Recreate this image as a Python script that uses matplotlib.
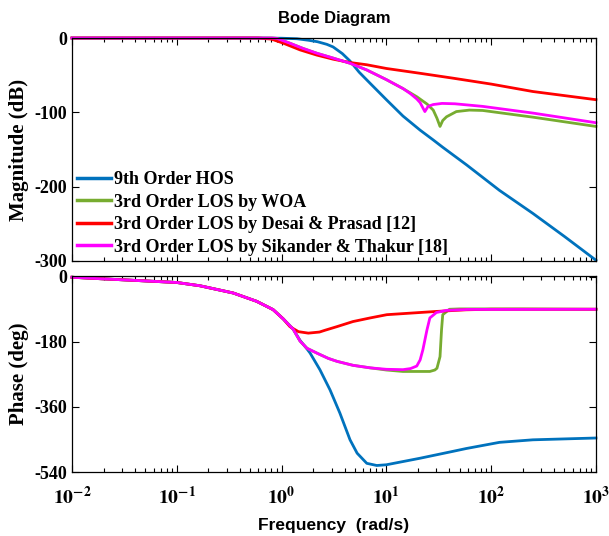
import numpy as np
import matplotlib
matplotlib.use('Agg')
import matplotlib.pyplot as plt
from matplotlib.ticker import LogLocator, NullFormatter

plt.rcParams['mathtext.fontset'] = 'stix'

# magnitude curves (rad/s, dB)
w_mag_hos = [0.01, 0.5, 1.0, 1.4, 1.8, 2.2, 2.7, 3.1, 3.8, 4.5, 5.5, 7.0, 10, 14.4, 21, 27.9, 34.5, 58.6, 120, 250, 500, 1000]
mag_hos = [0, 0, -0.3, -1, -3, -5, -8.5, -12, -21, -31, -46, -61, -83, -105, -124, -137, -147, -171, -205, -236, -267, -299]

w_mag_woa = [0.01, 0.8, 0.9, 1.2, 1.6, 2.17, 3.1, 4.5, 6.5, 10, 14.4, 19.5, 24.5, 28, 30.4, 32.5, 34.5, 37.5, 46.5, 62, 83, 250, 1000]
mag_woa = [0, 0, -0.5, -7, -14, -20.5, -27, -34, -43, -56, -68, -79, -89, -97, -108, -119, -111, -106, -99, -97, -97.5, -106.5, -119]

w_mag_desai = [0.01, 0.6, 0.8, 1.04, 1.5, 2.17, 3.1, 4.5, 6.5, 10, 21, 43, 100, 250, 1000]
mag_desai = [0, 0, -1.5, -7, -16, -23, -28.5, -33, -36, -41, -47.5, -54, -62, -72, -83]

w_mag_sik = [0.01, 0.8, 0.9, 1.2, 1.6, 2.17, 3.1, 4.5, 6.5, 10, 14.4, 17, 19.5, 21, 23.3, 25, 28, 34, 45, 83, 250, 1000]
mag_sik = [0, 0, -0.5, -7, -14, -20.5, -27, -34, -43, -56, -68, -75, -82, -87, -99, -92, -89.5, -88, -88.5, -92, -101, -114]

# phase curves (rad/s, deg)
w_ph_hos = [0.01, 0.0185, 0.0385, 0.1, 0.166, 0.345, 0.578, 0.83, 1.04, 1.29, 1.5, 1.75, 1.87, 2.32, 2.9, 3.6, 4.5,
            5.26, 6.5, 8.1, 10, 20.9, 43, 58, 120, 250, 1000]
ph_hos = [-1.5, -5.5, -10, -16, -25, -45, -68, -91, -117, -145, -176, -200, -211, -257, -313, -377, -451,
          -488, -516, -522, -520, -502, -483, -475, -458, -451, -446]

w_ph_woa = [0.01, 0.0185, 0.0385, 0.1, 0.166, 0.345, 0.578, 0.83, 1.04, 1.29, 1.5, 1.75, 2.2, 2.8, 3.38, 4.8, 7.0,
            10, 14.4, 26, 29, 30.4, 32.5, 33.6, 34.5, 40, 50, 200, 1000]
ph_woa = [-1.5, -5.5, -10, -16, -25, -45, -68, -91, -117, -145, -178, -198, -212, -226, -234, -245, -252,
          -258, -262, -262, -258, -253, -221, -147, -105, -90, -89, -89, -90]

w_ph_desai = [0.01, 0.0185, 0.0385, 0.1, 0.166, 0.345, 0.578, 0.83, 1.04, 1.2, 1.45, 1.8, 2.3, 2.6, 3.38, 4.8, 7.0,
              10.1, 20.9, 30, 58, 100, 1000]
ph_desai = [-1.5, -5.5, -10, -16, -25, -45, -68, -91, -117, -138, -152, -156, -153, -148, -138, -124, -114,
            -105, -99, -96, -91.5, -90, -90]

w_ph_sik = [0.01, 0.0185, 0.0385, 0.1, 0.166, 0.345, 0.578, 0.83, 1.04, 1.29, 1.5, 1.75, 2.2, 2.8, 3.38, 4.8, 7.0,
            10, 14.4, 17, 19.5, 21, 22.3, 24.4, 26, 30, 37.5, 60, 1000]
ph_sik = [-1.5, -5.5, -10, -16, -25, -45, -68, -91, -117, -145, -178, -198, -212, -226, -234, -245, -252,
          -256, -257, -254, -247, -230, -202, -147, -114, -99, -93, -90.5, -90]

labels = ['9th Order HOS', '3rd Order LOS by WOA', '3rd Order LOS by Desai & Prasad [12]',
          '3rd Order LOS by Sikander & Thakur [18]']
colors = ['#0072BD', '#77AC30', '#FF0000', '#FF00FF']

x_ticks = [1e-2, 1e-1, 1e0, 1e1, 1e2, 1e3]
x_ticklabels = [r'$\mathbf{10^{-2}}$', r'$\mathbf{10^{-1}}$', r'$\mathbf{10^{0}}$',
                r'$\mathbf{10^{1}}$', r'$\mathbf{10^{2}}$', r'$\mathbf{10^{3}}$']

mag_series = [(w_mag_hos, mag_hos), (w_mag_woa, mag_woa), (w_mag_desai, mag_desai), (w_mag_sik, mag_sik)]
ph_series = [(w_ph_hos, ph_hos), (w_ph_woa, ph_woa), (w_ph_desai, ph_desai), (w_ph_sik, ph_sik)]

fig = plt.figure(figsize=(6.09, 5.36), dpi=100)
ax_mag = fig.add_axes([0.1182, 0.5131, 0.8604, 0.416])
ax_ph = fig.add_axes([0.1182, 0.1194, 0.8604, 0.3657])

serif_bold = {'family': 'Liberation Serif', 'weight': 'bold'}

for (w, m), (wp, p), lab, c in zip(mag_series, ph_series, labels, colors):
  ax_mag.semilogx(w, m, color=c, lw=2.0, label=lab, clip_on=False)
  ax_ph.semilogx(wp, p, color=c, lw=2.0, clip_on=False)

for ax in (ax_mag, ax_ph):
  ax.set_xlim(1e-2, 1e3)
  ax.set_xticks(x_ticks)
  ax.xaxis.set_minor_locator(LogLocator(base=10, subs=np.arange(2, 10), numticks=10))
  ax.xaxis.set_minor_formatter(NullFormatter())
  ax.tick_params(which='both', direction='in', top=True, right=True, width=0.8)
  ax.tick_params(which='major', length=5, labelsize=13)
  ax.tick_params(which='minor', length=3)
  for s in ax.spines.values():
    s.set_linewidth(0.9)

ax_mag.set_ylim(-300, 0)
ax_mag.set_yticks([-300, -200, -100, 0])
ax_mag.set_yticklabels(['-300', '-200', '-100', '0'], fontdict=serif_bold, fontsize=13)
ax_mag.tick_params(labelbottom=False)
ax_mag.set_ylabel('Magnitude (dB)', fontdict=serif_bold, fontsize=15, labelpad=4)
ax_mag.set_title('Bode Diagram', fontfamily='Liberation Sans', fontweight='bold', fontsize=12, pad=11)

ax_ph.set_ylim(-540, 2)
ax_ph.set_yticks([-540, -360, -180, 0])
ax_ph.set_yticklabels(['-540', '-360', '-180', '0'], fontdict=serif_bold, fontsize=13)
ax_ph.set_xticklabels(x_ticklabels, fontsize=14)
ax_ph.tick_params(axis='x', which='major', pad=10)
ax_ph.set_ylabel('Phase (deg)', fontdict=serif_bold, fontsize=15, labelpad=4)
ax_ph.set_xlabel('Frequency  (rad/s)', fontfamily='Liberation Sans', fontweight='bold', fontsize=12.5, labelpad=7)

leg = ax_mag.legend(loc='lower left', bbox_to_anchor=(0.0, 0.0), frameon=False,
                    prop={'family': 'Liberation Serif', 'weight': 'bold', 'size': 13},
                    handlelength=1.85, handletextpad=0.2, labelspacing=0.3, borderpad=0.1,
                    borderaxespad=0.2)
for h in leg.get_lines():
  h.set_linewidth(2.5)

fig.savefig('out.png', dpi=100)
